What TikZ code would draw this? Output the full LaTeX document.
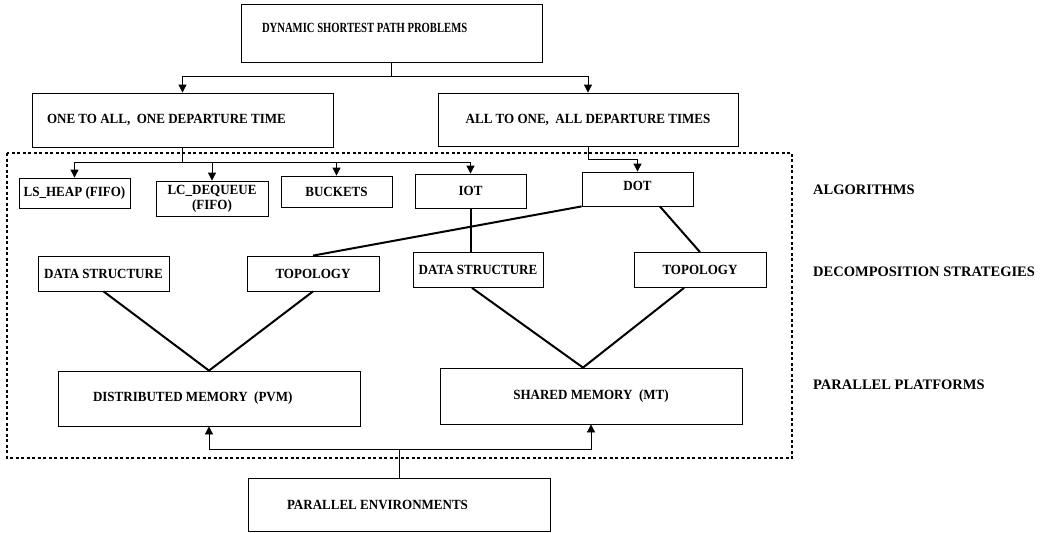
\documentclass[tikz,border=0pt]{standalone}
\usepackage{fontspec}
\setmainfont{Liberation Serif}
\newfontfamily\condface[FakeStretch=0.93]{Liberation Serif}
\newfontfamily\narrowface[FakeStretch=0.76]{Liberation Serif}
\usetikzlibrary{arrows.meta,calc}
\newcommand\bxfont{\condface\fontsize{14}{15}\selectfont\bfseries}
\newcommand\ttlfont{\narrowface\fontsize{14}{15}\selectfont\bfseries}
\newcommand\lvlfont{\fontsize{14.5}{16}\selectfont\bfseries}

\begin{document}
\begin{tikzpicture}[x=1pt,y=-1pt,
  box/.style={draw, line width=0.8pt, inner sep=0pt, font=\bxfont},
  flow/.style={line width=0.8pt, -{Triangle[length=8pt,width=8pt]}},
  tie/.style={line width=2pt},
  level/.style={anchor=west, inner sep=0pt, font=\lvlfont},
  region/.style={line width=1.2pt, dash pattern=on 3pt off 2.5pt}]
\useasboundingbox (0,0) rectangle (1050,533);

% dotted frame around algorithms, strategies and platforms
\draw[region] (7,153) rectangle (792,458);

% problem classes (text set flush left inside a padded box)
\node[box, font=\ttlfont, minimum width=301pt, minimum height=58pt] (top) at (391.5,33)
  {\raisebox{10pt}{\makebox[259pt][l]{DYNAMIC SHORTEST PATH PROBLEMS}}};
\node[box, minimum width=301pt, minimum height=54pt] (one) at (182.5,120)
  {\makebox[271pt][l]{ONE TO ALL,\ \ ONE DEPARTURE TIME}};
\node[box, minimum width=300pt, minimum height=53pt] (all) at (588,119.5) {ALL TO ONE,\ \ ALL DEPARTURE TIMES};

% algorithms
\node[box, minimum width=111pt, minimum height=30pt] (ls)  at (74.5,193)  {LS\_HEAP (FIFO)};
\node[box, minimum width=112pt, minimum height=35pt, align=center] (lc) at (212,198.5) {LC\_DEQUEUE\\(FIFO)};
\node[box, minimum width=111pt, minimum height=31pt] (bk)  at (336.5,191.5) {BUCKETS};
\node[box, minimum width=111pt, minimum height=34pt] (iot) at (470.5,191) {IOT};
\node[box, minimum width=111pt, minimum height=34pt] (dot) at (637.5,189) {\raisebox{6pt}{DOT}};

% decomposition strategies
\node[box, minimum width=131pt, minimum height=35pt] (ds1) at (103.5,273.5) {DATA STRUCTURE};
\node[box, minimum width=132pt, minimum height=35pt] (tp1) at (313,273.5)   {TOPOLOGY};
\node[box, minimum width=130pt, minimum height=35pt] (ds2) at (478,270)     {DATA STRUCTURE};
\node[box, minimum width=132pt, minimum height=35pt] (tp2) at (700,270)     {TOPOLOGY};

% parallel platforms
\node[box, minimum width=302pt, minimum height=55pt] (dm) at (209,398.5)
  {\makebox[232pt][l]{DISTRIBUTED MEMORY\ \ (PVM)}};
\node[box, minimum width=302pt, minimum height=56pt] (sm) at (591,396) {SHARED MEMORY\ \ (MT)};

% environments
\node[box, minimum width=302pt, minimum height=53pt] (pe) at (399,504.5)
  {\makebox[224pt][l]{PARALLEL ENVIRONMENTS}};

% level captions
\node[level] (lalg) at (813,190) {ALGORITHMS};
\node[level] (ldec) at (813,272) {DECOMPOSITION STRATEGIES};
\node[level] (lpar) at (813,385) {PARALLEL PLATFORMS};

% branching arrows
\draw[flow] (top.south) -- ++(0,14) -| (one.north);
\draw[flow] (top.south) -- ++(0,14) -| (all.north);
\foreach \t in {ls,lc,bk,iot}
  \draw[flow] (one.south) -- ++(0,15) -| (\t.north);
\draw[flow] (all.south) -- ++(0,13) -| (dot.north);

% algorithm to strategy ties
\draw[tie] (dot.south west) -- (tp1.north);
\draw[tie] (iot.south) -- (iot.south |- ds2.north);
\draw[tie] ($(dot.south west)!0.7!(dot.south east)$) -- (tp2.north);

% strategy to platform ties
\draw[tie] (ds1.south) -- (dm.north);
\draw[tie] (tp1.south) -- (dm.north);
\coordinate (smtop) at ($(sm.north)+(-8,0)$);
\draw[tie] ($(ds2.south)+(-6,0)$) -- (smtop);
\draw[tie] ($(tp2.south west)!0.38!(tp2.south east)$) -- (smtop);

% environments feed both platforms
\draw[flow] (pe.north) -- ++(0,-28) -| (dm.south);
\draw[flow] (pe.north) -- ++(0,-28) -| (sm.south);
\end{tikzpicture}
\end{document}
